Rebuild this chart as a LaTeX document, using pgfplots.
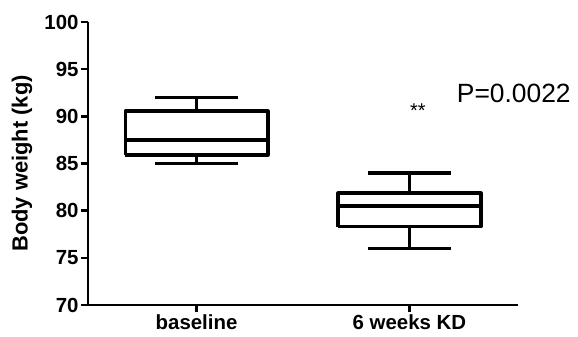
\documentclass[border=0pt]{standalone}
\usepackage{fontspec}
\setmainfont{Liberation Sans}
\usepackage{pgfplots}
\pgfplotsset{compat=1.18}
\begin{document}
\begin{tikzpicture}
\begin{axis}[
  name=ax,
  scale only axis,
  width=430bp, height=283bp,
  xmin=0.49, xmax=2.51,
  ymin=70, ymax=100,
  axis x line=bottom, axis y line=left,
  axis line style={-, line width=2.4bp, black},
  ytick={70,75,80,85,90,95,100},
  xtick={1,2},
  xticklabels={baseline,6 weeks KD},
  tick align=outside,
  major tick length=7bp,
  tick style={line width=2.4bp, black},
  /pgf/number format/assume math mode=true,
  ticklabel style={font=\fontsize{20.5}{24}\selectfont\bfseries},
  yticklabel style={xshift=1bp},
  xticklabel style={yshift=1bp},
  ylabel={Body weight (kg)},
  every axis y label/.style={at={(axis description cs:0,0.5)}, xshift=-66bp, rotate=90, anchor=center, font=\fontsize{22}{25}\selectfont\bfseries},
  clip=false,
  unbounded coords=jump,
]
% baseline: lw=85, q1=85.9, med=87.5, q3=90.55, uw=92
\addplot[black, line width=3.5bp, line join=round, mark=none] coordinates {
  (0.665,85.9) (1.335,85.9) (1.335,90.55) (0.665,90.55) (0.665,85.9)
  (1,nan) (0.665,87.5) (1.335,87.5)
  (1,nan) (1,90.55) (1,92)
  (1,nan) (0.805,92) (1.195,92)
  (1,nan) (1,85.9) (1,85)
  (1,nan) (0.805,85) (1.195,85)
};
% 6 weeks KD: lw=76, q1=78.3, med=80.5, q3=81.85, uw=84
\addplot[black, line width=3.5bp, line join=round, mark=none] coordinates {
  (1.665,78.3) (2.335,78.3) (2.335,81.85) (1.665,81.85) (1.665,78.3)
  (2,nan) (1.665,80.5) (2.335,80.5)
  (2,nan) (2,81.85) (2,84)
  (2,nan) (1.805,84) (2.195,84)
  (2,nan) (2,78.3) (2,76)
  (2,nan) (1.805,76) (2.195,76)
};
\node[font=\fontsize{20}{22}\selectfont, anchor=base, inner sep=0pt] at (axis cs:2.04,89.85) {**};
\node[font=\fontsize{26.5}{30}\selectfont, anchor=base west, inner sep=0pt] at (axis cs:2.222,91.42) {P=0.0022};
\end{axis}
\pgfresetboundingbox
\path ([shift={(-88bp,-32bp)}]ax.south west) rectangle ([shift={(60bp,22bp)}]ax.north east);
\end{tikzpicture}
\end{document}
